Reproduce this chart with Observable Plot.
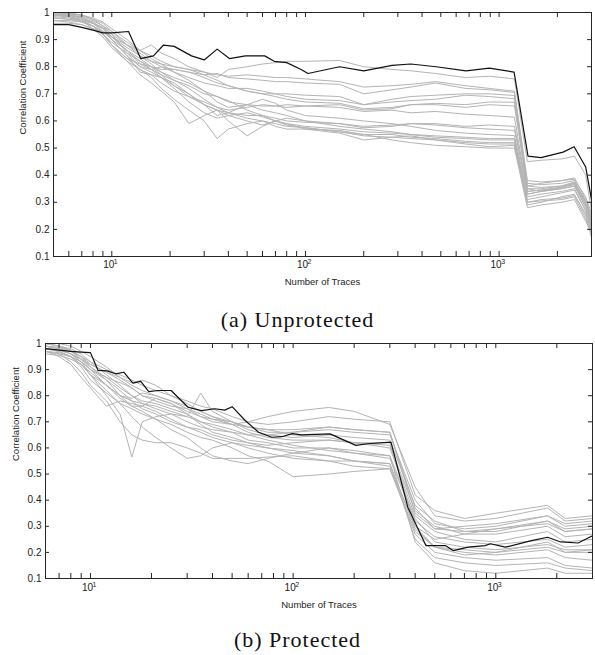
<!DOCTYPE html>
<html><head><meta charset="utf-8">
<script src="https://cdn.jsdelivr.net/npm/d3@7"></script>
<script src="https://cdn.jsdelivr.net/npm/@observablehq/plot@0.6"></script>
<style>
body{margin:0;background:#fff;}
#wrap{position:relative;width:595px;height:655px;overflow:hidden;background:#fff;}
.panel{position:absolute;left:0;}
.cap{position:absolute;left:0;width:595px;text-align:center;font-family:"Liberation Serif",serif;font-size:22px;letter-spacing:1px;line-height:28px;color:#111;}
</style></head><body><div id="wrap"></div>
<script>
// ---------- data ----------
const yLabel = "Correlation Coefficient";
const xLabel = "Number of Traces";
const captionA = "(a) Unprotected";
const captionB = "(b) Protected";
const yTicks = [0.1, 0.2, 0.3, 0.4, 0.5, 0.6, 0.7, 0.8, 0.9, 1];
const xMajorTicks = [10, 100, 1000];
const xMajorBase = "10";
const xMajorExp = ["1", "2", "3"];
const xMinorTicks = [5, 6, 7, 8, 9, 10, 20, 30, 40, 50, 60, 70, 80, 90, 100, 200, 300, 400, 500, 600, 700, 800, 900, 1000, 2000, 3000];

// Panel (a) Unprotected
const tracesA = [5, 6, 7, 8, 9, 10, 12, 14, 16, 18, 21, 25, 30, 35, 40, 50, 60, 70, 80, 100, 150, 200, 280, 350, 470, 670, 890, 1200, 1400, 1650, 2100, 2450, 2800, 3000];
const grayA01 = [1.0, 0.995, 0.99, 0.975, 0.95, 0.93, 0.89, 0.86, 0.88, 0.85, 0.83, 0.8, 0.78, 0.76, 0.79, 0.8, 0.81, 0.815, 0.82, 0.82, 0.823, 0.80, 0.79, 0.785, 0.775, 0.76, 0.765, 0.755, 0.45, 0.455, 0.46, 0.47, 0.40, 0.27];
const grayA02 = [0.99, 0.99, 0.98, 0.96, 0.93, 0.9, 0.86, 0.82, 0.8, 0.79, 0.79, 0.78, 0.77, 0.775, 0.76, 0.755, 0.75, 0.745, 0.745, 0.74, 0.735, 0.70, 0.715, 0.725, 0.74, 0.72, 0.715, 0.705, 0.37, 0.365, 0.37, 0.38, 0.30, 0.22];
const grayA03 = [0.98, 0.975, 0.97, 0.96, 0.94, 0.91, 0.87, 0.84, 0.82, 0.8, 0.78, 0.76, 0.74, 0.73, 0.72, 0.72, 0.71, 0.70, 0.70, 0.695, 0.69, 0.66, 0.68, 0.69, 0.695, 0.70, 0.70, 0.694, 0.35, 0.34, 0.35, 0.36, 0.29, 0.23];
const grayA04 = [0.995, 0.99, 0.985, 0.97, 0.95, 0.92, 0.85, 0.8, 0.79, 0.8, 0.79, 0.78, 0.76, 0.74, 0.73, 0.71, 0.7, 0.7, 0.69, 0.68, 0.675, 0.66, 0.67, 0.675, 0.68, 0.695, 0.69, 0.682, 0.36, 0.355, 0.36, 0.37, 0.31, 0.25];
const grayA05 = [0.97, 0.97, 0.965, 0.95, 0.92, 0.88, 0.83, 0.81, 0.79, 0.77, 0.75, 0.73, 0.7, 0.69, 0.67, 0.66, 0.655, 0.655, 0.65, 0.655, 0.66, 0.64, 0.645, 0.66, 0.665, 0.66, 0.67, 0.669, 0.34, 0.345, 0.355, 0.37, 0.30, 0.20];
const grayA06 = [0.99, 0.985, 0.97, 0.94, 0.91, 0.87, 0.82, 0.79, 0.77, 0.74, 0.71, 0.69, 0.67, 0.65, 0.64, 0.65, 0.66, 0.655, 0.66, 0.655, 0.65, 0.635, 0.64, 0.63, 0.635, 0.625, 0.62, 0.614, 0.33, 0.34, 0.35, 0.36, 0.28, 0.22];
const grayA07 = [1.0, 0.995, 0.98, 0.96, 0.94, 0.91, 0.86, 0.81, 0.8, 0.78, 0.75, 0.72, 0.68, 0.65, 0.63, 0.62, 0.62, 0.61, 0.6, 0.595, 0.59, 0.58, 0.585, 0.59, 0.585, 0.575, 0.57, 0.565, 0.35, 0.35, 0.36, 0.375, 0.30, 0.24];
const grayA08 = [0.985, 0.98, 0.97, 0.95, 0.93, 0.9, 0.84, 0.78, 0.77, 0.76, 0.74, 0.7, 0.66, 0.62, 0.63, 0.66, 0.68, 0.665, 0.64, 0.62, 0.61, 0.6, 0.59, 0.58, 0.565, 0.555, 0.55, 0.546, 0.33, 0.34, 0.355, 0.365, 0.29, 0.21];
const grayA09 = [1.0, 0.995, 0.99, 0.975, 0.96, 0.93, 0.88, 0.84, 0.81, 0.78, 0.76, 0.74, 0.71, 0.69, 0.675, 0.64, 0.62, 0.6, 0.59, 0.58, 0.57, 0.56, 0.555, 0.55, 0.545, 0.54, 0.535, 0.535, 0.32, 0.33, 0.34, 0.35, 0.27, 0.2];
const grayA10 = [0.99, 0.985, 0.97, 0.95, 0.92, 0.88, 0.82, 0.77, 0.74, 0.71, 0.67, 0.59, 0.62, 0.64, 0.62, 0.6, 0.585, 0.6, 0.61, 0.6, 0.58, 0.57, 0.56, 0.55, 0.54, 0.535, 0.53, 0.53, 0.30, 0.31, 0.315, 0.325, 0.26, 0.19];
const grayA11 = [0.98, 0.975, 0.965, 0.95, 0.92, 0.88, 0.83, 0.79, 0.76, 0.72, 0.68, 0.64, 0.6, 0.535, 0.57, 0.59, 0.6, 0.58, 0.57, 0.57, 0.565, 0.55, 0.55, 0.54, 0.535, 0.525, 0.52, 0.52, 0.31, 0.32, 0.335, 0.345, 0.27, 0.2];
const grayA12 = [0.995, 0.99, 0.98, 0.96, 0.94, 0.9, 0.84, 0.8, 0.78, 0.76, 0.73, 0.69, 0.66, 0.64, 0.6, 0.545, 0.58, 0.6, 0.585, 0.575, 0.56, 0.545, 0.54, 0.535, 0.53, 0.52, 0.515, 0.515, 0.29, 0.30, 0.32, 0.33, 0.25, 0.18];
const grayA13 = [0.97, 0.965, 0.955, 0.94, 0.92, 0.89, 0.85, 0.82, 0.79, 0.76, 0.72, 0.67, 0.63, 0.61, 0.62, 0.63, 0.615, 0.6, 0.59, 0.57, 0.555, 0.53, 0.54, 0.545, 0.53, 0.515, 0.505, 0.51, 0.3, 0.305, 0.31, 0.32, 0.24, 0.17];
const grayA14 = [0.99, 0.99, 0.98, 0.965, 0.94, 0.91, 0.86, 0.83, 0.8, 0.77, 0.73, 0.7, 0.66, 0.64, 0.63, 0.61, 0.6, 0.59, 0.58, 0.575, 0.56, 0.55, 0.53, 0.52, 0.51, 0.505, 0.50, 0.50, 0.28, 0.29, 0.30, 0.31, 0.23, 0.19];
const grayA15 = [1.0, 1.0, 0.99, 0.98, 0.965, 0.94, 0.9, 0.86, 0.83, 0.81, 0.78, 0.75, 0.71, 0.67, 0.65, 0.66, 0.64, 0.63, 0.62, 0.6, 0.59, 0.575, 0.58, 0.59, 0.59, 0.58, 0.585, 0.58, 0.34, 0.345, 0.355, 0.37, 0.29, 0.22];
const grayA16 = [0.96, 0.96, 0.955, 0.94, 0.93, 0.91, 0.88, 0.86, 0.84, 0.82, 0.8, 0.79, 0.77, 0.75, 0.73, 0.71, 0.7, 0.69, 0.68, 0.67, 0.665, 0.645, 0.65, 0.66, 0.66, 0.65, 0.66, 0.655, 0.36, 0.37, 0.38, 0.385, 0.32, 0.26];
const grayA17 = [0.99, 0.985, 0.975, 0.96, 0.945, 0.92, 0.88, 0.85, 0.82, 0.81, 0.8, 0.79, 0.78, 0.77, 0.765, 0.77, 0.765, 0.76, 0.76, 0.755, 0.745, 0.725, 0.73, 0.735, 0.745, 0.73, 0.72, 0.71, 0.38, 0.375, 0.38, 0.39, 0.31, 0.24];
const blackTracesA = [5, 6, 7, 8, 9, 10, 12.2, 14.1, 16.4, 18.5, 21, 25.8, 30, 35, 40.5, 49, 61.6, 69, 80, 95, 103, 150, 200, 280, 350, 473, 675, 890, 1195, 1410, 1645, 2140, 2440, 2800, 3000];
const blackA = [0.955, 0.955, 0.945, 0.935, 0.925, 0.925, 0.93, 0.83, 0.84, 0.88, 0.875, 0.84, 0.825, 0.865, 0.83, 0.84, 0.84, 0.82, 0.815, 0.79, 0.775, 0.80, 0.785, 0.805, 0.81, 0.80, 0.785, 0.795, 0.78, 0.47, 0.465, 0.485, 0.505, 0.43, 0.31];

// Panel (b) Protected
const tracesB = [6, 7, 8, 9, 10, 12, 14, 16, 18, 21, 25, 30, 35, 40, 50, 60, 75, 100, 150, 200, 300, 400, 500, 700, 1000, 1800, 2200, 3000];
const grayB01 = [0.99, 0.98, 0.96, 0.93, 0.9, 0.87, 0.85, 0.83, 0.8, 0.79, 0.77, 0.74, 0.72, 0.7, 0.69, 0.7, 0.72, 0.74, 0.755, 0.74, 0.69, 0.45, 0.34, 0.32, 0.33, 0.37, 0.32, 0.33];
const grayB02 = [0.98, 0.975, 0.96, 0.94, 0.92, 0.89, 0.87, 0.85, 0.86, 0.84, 0.8, 0.78, 0.76, 0.75, 0.72, 0.7, 0.69, 0.7, 0.72, 0.71, 0.7, 0.42, 0.36, 0.33, 0.35, 0.38, 0.33, 0.34];
const grayB03 = [0.97, 0.96, 0.95, 0.93, 0.88, 0.8, 0.73, 0.565, 0.7, 0.72, 0.73, 0.7, 0.68, 0.67, 0.66, 0.65, 0.65, 0.66, 0.68, 0.67, 0.66, 0.35, 0.29, 0.3, 0.31, 0.34, 0.3, 0.31];
const grayB04 = [1.0, 0.99, 0.97, 0.94, 0.9, 0.84, 0.8, 0.78, 0.77, 0.76, 0.74, 0.72, 0.81, 0.74, 0.7, 0.67, 0.65, 0.64, 0.65, 0.64, 0.63, 0.38, 0.32, 0.28, 0.29, 0.32, 0.29, 0.3];
const grayB05 = [0.99, 0.985, 0.97, 0.95, 0.93, 0.9, 0.88, 0.86, 0.84, 0.82, 0.8, 0.77, 0.74, 0.72, 0.69, 0.68, 0.67, 0.65, 0.64, 0.62, 0.62, 0.3, 0.25, 0.27, 0.29, 0.31, 0.28, 0.29];
const grayB06 = [0.97, 0.96, 0.93, 0.89, 0.84, 0.78, 0.7, 0.65, 0.63, 0.62, 0.62, 0.6, 0.58, 0.56, 0.56, 0.56, 0.565, 0.57, 0.55, 0.53, 0.52, 0.27, 0.2, 0.18, 0.17, 0.18, 0.15, 0.14];
const grayB07 = [0.98, 0.97, 0.95, 0.91, 0.86, 0.81, 0.77, 0.75, 0.73, 0.71, 0.69, 0.66, 0.64, 0.63, 0.6, 0.57, 0.55, 0.49, 0.5, 0.51, 0.52, 0.28, 0.22, 0.2, 0.19, 0.21, 0.18, 0.17];
const grayB08 = [1.0, 0.99, 0.98, 0.96, 0.93, 0.88, 0.84, 0.8, 0.78, 0.77, 0.75, 0.73, 0.7, 0.68, 0.66, 0.63, 0.62, 0.6, 0.6, 0.58, 0.56, 0.32, 0.26, 0.24, 0.23, 0.25, 0.22, 0.23];
const grayB09 = [0.98, 0.975, 0.96, 0.94, 0.91, 0.86, 0.8, 0.76, 0.76, 0.79, 0.77, 0.73, 0.69, 0.66, 0.64, 0.62, 0.6, 0.58, 0.57, 0.55, 0.54, 0.25, 0.18, 0.16, 0.15, 0.16, 0.14, 0.13];
const grayB10 = [0.99, 0.98, 0.96, 0.93, 0.9, 0.86, 0.82, 0.78, 0.75, 0.73, 0.7, 0.68, 0.67, 0.65, 0.63, 0.62, 0.61, 0.62, 0.63, 0.62, 0.6, 0.34, 0.28, 0.25, 0.24, 0.28, 0.24, 0.25];
const grayB11 = [0.97, 0.965, 0.95, 0.92, 0.88, 0.82, 0.77, 0.72, 0.68, 0.64, 0.6, 0.56, 0.57, 0.6, 0.62, 0.61, 0.6, 0.59, 0.57, 0.55, 0.53, 0.3, 0.22, 0.19, 0.2, 0.22, 0.2, 0.2];
const grayB12 = [1.0, 0.99, 0.975, 0.95, 0.92, 0.89, 0.86, 0.83, 0.8, 0.78, 0.76, 0.75, 0.73, 0.71, 0.69, 0.66, 0.64, 0.63, 0.63, 0.62, 0.61, 0.36, 0.3, 0.27, 0.27, 0.3, 0.26, 0.27];
const grayB13 = [0.96, 0.955, 0.94, 0.92, 0.89, 0.84, 0.79, 0.76, 0.74, 0.71, 0.67, 0.64, 0.6, 0.57, 0.55, 0.54, 0.56, 0.58, 0.6, 0.59, 0.57, 0.24, 0.16, 0.13, 0.12, 0.14, 0.12, 0.12];
const grayB14 = [0.99, 0.98, 0.97, 0.95, 0.91, 0.87, 0.83, 0.8, 0.77, 0.75, 0.73, 0.72, 0.7, 0.69, 0.67, 0.65, 0.63, 0.61, 0.59, 0.58, 0.57, 0.33, 0.24, 0.22, 0.21, 0.23, 0.21, 0.21];
const grayB15 = [0.98, 0.97, 0.95, 0.92, 0.88, 0.84, 0.8, 0.79, 0.81, 0.8, 0.78, 0.75, 0.72, 0.71, 0.7, 0.68, 0.66, 0.66, 0.67, 0.66, 0.65, 0.4, 0.31, 0.29, 0.3, 0.34, 0.31, 0.32];
const grayB16 = [0.97, 0.95, 0.92, 0.87, 0.83, 0.76, 0.78, 0.77, 0.76, 0.74, 0.71, 0.68, 0.66, 0.64, 0.62, 0.6, 0.58, 0.56, 0.55, 0.55, 0.54, 0.29, 0.22, 0.21, 0.2, 0.24, 0.2, 0.21];
const grayB17 = [1.0, 1.0, 0.99, 0.97, 0.95, 0.91, 0.87, 0.84, 0.82, 0.8, 0.78, 0.76, 0.74, 0.72, 0.7, 0.68, 0.67, 0.67, 0.68, 0.67, 0.66, 0.37, 0.29, 0.28, 0.28, 0.32, 0.28, 0.29];
const blackTracesB = [6, 7, 8, 9, 10, 10.9, 12.1, 13.3, 14.6, 16.2, 17.7, 19.4, 21.5, 25, 30.3, 35.3, 41, 46, 50, 58, 67.5, 78.5, 88, 99, 110, 152, 204, 233, 304, 368, 452, 564, 616, 730, 886, 940, 1115, 1500, 1800, 2090, 2550, 3000];
const blackB = [0.98, 0.975, 0.97, 0.967, 0.965, 0.897, 0.895, 0.884, 0.89, 0.848, 0.855, 0.816, 0.82, 0.82, 0.756, 0.743, 0.75, 0.745, 0.758, 0.705, 0.66, 0.641, 0.643, 0.655, 0.65, 0.654, 0.61, 0.616, 0.622, 0.373, 0.226, 0.226, 0.207, 0.22, 0.226, 0.233, 0.22, 0.245, 0.258, 0.24, 0.236, 0.264];

const graysA = [grayA01, grayA02, grayA03, grayA04, grayA05, grayA06, grayA07, grayA08, grayA09, grayA10, grayA11, grayA12, grayA13, grayA14, grayA15, grayA16, grayA17];
const graysB = [grayB01, grayB02, grayB03, grayB04, grayB05, grayB06, grayB07, grayB08, grayB09, grayB10, grayB11, grayB12, grayB13, grayB14, grayB15, grayB16, grayB17];

// ---------- drawing ----------
const yDomain = [0.1, 1];

function drawPanel(o) {
  const rows = [];
  o.grays.forEach((ys, i) => {
    const n = Math.min(ys.length, o.xGrid.length);
    for (let j = 0; j < n; j++) rows.push({s: i, x: o.xGrid[j], y: ys[j]});
  });
  const black = o.blackX.map((x, i) => ({x, y: o.blackY[i]}));
  const plotW = o.width - o.mLeft - o.mRight;
  const plotH = o.height - o.mTop - o.mBottom;
  const yPerPx = (yDomain[1] - yDomain[0]) / plotH;
  const logPerPx = Math.log10(o.xDomain[1] / o.xDomain[0]) / plotW;
  const xf = Math.pow(10, logPerPx * 4);
  const dy = yPerPx * 5;
  const minor = xMinorTicks.filter(d => d >= o.xDomain[0] && d <= o.xDomain[1]);
  const tc = "#262626";
  return Plot.plot({
    width: o.width, height: o.height,
    marginTop: o.mTop, marginBottom: o.mBottom, marginLeft: o.mLeft, marginRight: o.mRight,
    x: {type: "log", domain: o.xDomain, axis: null},
    y: {domain: yDomain, axis: null},
    style: {background: "transparent", overflow: "visible", fontFamily: "'Liberation Sans', Arial, sans-serif", color: "#222"},
    marks: [
      Plot.line(rows, {x: "x", y: "y", z: "s", stroke: "#b4b4b4", strokeWidth: 1}),
      Plot.line(black, {x: "x", y: "y", stroke: "#111", strokeWidth: 1.2}),
      Plot.ruleX(minor, {x: d => d, y1: yDomain[0], y2: yDomain[0] + dy, stroke: tc}),
      Plot.ruleX(minor, {x: d => d, y1: yDomain[1], y2: yDomain[1] - dy, stroke: tc}),
      Plot.ruleY(yTicks, {y: d => d, x1: o.xDomain[0], x2: o.xDomain[0] * xf, stroke: tc}),
      Plot.ruleY(yTicks, {y: d => d, x1: o.xDomain[1] / xf, x2: o.xDomain[1], stroke: tc}),
      Plot.frame({stroke: tc}),
      Plot.text(yTicks, {y: d => d, frameAnchor: "left", textAnchor: "end", dx: -4, text: d => String(+d.toFixed(1)), fontSize: 10, fill: "#222"}),
      Plot.text(xMajorTicks, {x: d => d, frameAnchor: "bottom", dy: o.xTickDy, dx: -3, text: d => xMajorBase, fontSize: 10, fill: "#222"}),
      Plot.text(xMajorTicks, {x: d => d, frameAnchor: "bottom", dy: o.xTickDy - 4, dx: 4, text: (d, i) => xMajorExp[i], fontSize: 7, fill: "#222"}),
      Plot.text([xLabel], {frameAnchor: "bottom", dy: o.xLabelDy, text: d => d, fontSize: 9.5, fill: "#222"}),
      Plot.text([yLabel], {frameAnchor: "left", rotate: -90, dx: o.yLabelDx, text: d => d, fontSize: 9.5, fill: "#222"})
    ]
  });
}

const wrap = document.getElementById("wrap");

const svgA = drawPanel({xGrid: tracesA, grays: graysA, blackX: blackTracesA, blackY: blackA,
  xDomain: [5, 3000], width: 595, height: 300, mTop: 12, mBottom: 44, mLeft: 53, mRight: 4,
  xTickDy: 11, xLabelDy: 28, yLabelDx: -31});
svgA.classList.add("panel"); svgA.style.top = "0px";
wrap.appendChild(svgA);

const svgB = drawPanel({xGrid: tracesB, grays: graysB, blackX: blackTracesB, blackY: blackB,
  xDomain: [6, 3000], width: 595, height: 290, mTop: 13, mBottom: 42, mLeft: 45, mRight: 3,
  xTickDy: 12, xLabelDy: 29, yLabelDx: -30});
svgB.classList.add("panel"); svgB.style.top = "330px";
wrap.appendChild(svgB);

const capA = document.createElement("div");
capA.className = "cap"; capA.style.top = "306px"; capA.textContent = captionA;
wrap.appendChild(capA);
const capB = document.createElement("div");
capB.className = "cap"; capB.style.top = "626px"; capB.textContent = captionB;
wrap.appendChild(capB);
</script>
</body></html>
